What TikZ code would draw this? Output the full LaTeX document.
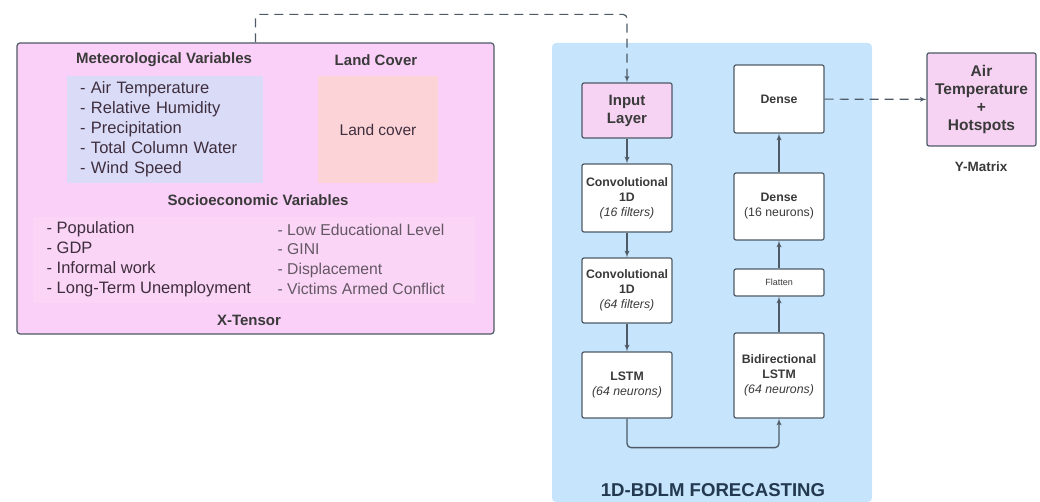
\documentclass[tikz,border=0pt]{standalone}
\usepackage{fontspec}
\setmainfont{Liberation Sans}
\usetikzlibrary{arrows}
\definecolor{tensorpink}{HTML}{FAD0F8}
\definecolor{sociopink}{HTML}{FAD5F6}
\definecolor{metblue}{HTML}{D9DBF7}
\definecolor{landpeach}{HTML}{FCD4D8}
\definecolor{panelblue}{HTML}{C6E4FB}
\definecolor{inputpink}{HTML}{F6D3F3}
\definecolor{edgegray}{HTML}{4E5A66}
\definecolor{textgray}{HTML}{3A3A3A}
\definecolor{listplum}{HTML}{3F2E3E}
\definecolor{titleblue}{HTML}{23394F}

\begin{document}
\begin{tikzpicture}[x=1pt,y=-1pt,>=latex',line width=1.2pt,
                    heading/.style={text=textgray,font=\fontsize{15}{18}\selectfont\bfseries},
                    list/.style={text=listplum,align=left,font=\fontsize{16.5}{20}\selectfont},
                    layer/.style={draw=edgegray,fill=white,rounded corners=2pt,minimum width=90pt,
                                  align=center,text=textgray,font=\fontsize{12.3}{15}\selectfont\bfseries},
                    flow/.style={->,draw=edgegray,line width=1.3pt},
                    feed/.style={->,draw=edgegray,line width=1.2pt,dash pattern=on 9pt off 6pt}]
  \useasboundingbox (0,0) rectangle (1040,502);
  % input tensor
  \node[draw=edgegray,fill=tensorpink,rounded corners=3pt,minimum width=477pt,minimum height=291pt] (tensor) at (255.5,188.5) {};
  \node[heading] (metvar) at (164,60) {Meteorological Variables};
  \node[heading] (landvar) at (376,60) {Land Cover};
  \node[fill=metblue,minimum width=196pt,minimum height=107pt,list,text width=170pt] (metbox) at (165,129.5)
    {- Air Temperature\\- Relative Humidity\\- Precipitation\\- Total Column Water\\- Wind Speed};
  \node[fill=landpeach,minimum width=120pt,minimum height=107pt,text=listplum,font=\fontsize{15.5}{18}\selectfont] (landbox) at (378,129.5) {Land cover};
  \node[heading] (socvar) at (258,200) {Socioeconomic Variables};
  \node[fill=sociopink,minimum width=442pt,minimum height=86pt] (socbox) at (254,260) {};
  \node[list,anchor=west,inner sep=0pt] (socleft) at (46,259)
    {- Population\\- GDP\\- Informal work\\- Long-Term Unemployment};
  \node[list,anchor=west,inner sep=0pt,text=listplum!80,font=\fontsize{15.7}{19.7}\selectfont] (socright) at (277,259)
    {- Low Educational Level\\- GINI\\- Displacement\\- Victims Armed Conflict};
  \node[heading] (xlabel) at (249,320) {X-Tensor};

  % forecasting model
  \node[fill=panelblue,rounded corners=4pt,minimum width=320pt,minimum height=459pt] (panel) at (712,272.5) {};
  \node[text=titleblue,font=\fontsize{18.6}{22}\selectfont\bfseries] (forecast) at (713,490) {1D-BDLM FORECASTING};
  \node[layer,fill=inputpink,minimum height=55pt,font=\fontsize{15}{18}\selectfont\bfseries] (input) at (627,110.5) {Input\\Layer};
  \node[layer,minimum height=68pt] (conv1) at (627,198) {Convolutional\\1D\\{\normalfont\itshape (16 filters)}};
  \node[layer,minimum height=65pt] (conv2) at (627,290.5) {Convolutional\\1D\\{\normalfont\itshape (64 filters)}};
  \node[layer,minimum height=66pt] (lstm) at (627,385) {LSTM\\{\normalfont\itshape (64 neurons)}};
  \node[layer,minimum height=85pt] (bilstm) at (779,375.5) {Bidirectional\\LSTM\\{\normalfont\itshape (64 neurons)}};
  \node[layer,minimum height=27pt,font=\fontsize{9}{11}\selectfont] (flatten) at (779,282.5) {Flatten};
  \node[layer,minimum height=67pt] (dense16) at (779,206.5) {Dense\\{\normalfont (16 neurons)}};
  \node[layer,minimum height=68pt] (denseout) at (779,99) {Dense};

  % output
  \node[layer,fill=inputpink,minimum width=109pt,minimum height=93pt,font=\fontsize{15.5}{18}\selectfont\bfseries] (ybox) at (981.5,99.5) {Air\\Temperature\\+\\Hotspots};
  \node[heading,font=\fontsize{13.5}{16}\selectfont\bfseries] (ylabel) at (981,167) {Y-Matrix};

  \draw[feed,rounded corners=4pt] (tensor.north) -- ++(0,-28) -| (input.north);
  \draw[flow] (input) -- (conv1);
  \draw[flow] (conv1) -- (conv2);
  \draw[flow] (conv2) -- (lstm);
  \draw[flow,rounded corners=4pt] (lstm.south) -- ++(0,29) -| (bilstm.south);
  \draw[flow] (bilstm) -- (flatten);
  \draw[flow] (flatten) -- (dense16);
  \draw[flow] (dense16) -- (denseout);
  \draw[feed] (denseout) -- (ybox);
\end{tikzpicture}
\end{document}
